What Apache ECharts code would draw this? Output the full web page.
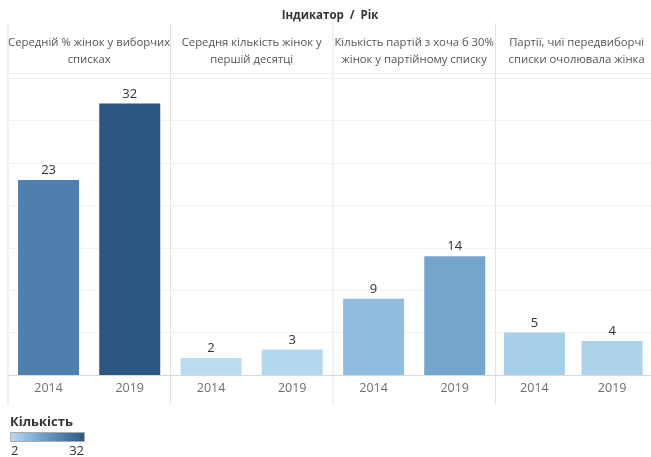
<!DOCTYPE html>
<html><head><meta charset="utf-8">
<script src="https://cdn.jsdelivr.net/npm/echarts@6/dist/echarts.min.js"></script>
<style>html,body{margin:0;padding:0;background:#fff}#c{width:651px;height:457px}</style>
</head><body><div id="c"></div>
<script>
const headers = [
  'Середній % жінок у виборчих\nсписках',
  'Середня кількість жінок у\nпершій десятці',
  'Кількість партій з хоча б 30%\nжінок у партійному списку',
  'Партії, чиї передвиборчі\nсписки очолювала жінка'
];
const years = ['2014', '2019'];
const avgPctWomen = [23, 32];
const avgWomenTop10 = [2, 3];
const partiesWith30 = [9, 14];
const partiesLedByWoman = [5, 4];
const panels = [avgPctWomen, avgWomenTop10, partiesWith30, partiesLedByWoman];
const colorMin = 2, colorMax = 32;
const colorStops = ['#b9dcf0', '#95c2e3', '#74a6cc', '#5a8bbb', '#41729f', '#2c5782'];

(function () {
const font = 'Open Sans';
const lefts = [8, 170.5, 333, 495.5];
const pw = 162.3;
const gTop = 73, gBottom = 375;
const grids = [], xAxes = [], yAxes = [], series = [], graphics = [];
panels.forEach((vals, i) => {
  grids.push({left: lefts[i], top: gTop, width: pw, height: gBottom - gTop});
  xAxes.push({type: 'category', gridIndex: i, data: years,
    axisLine: {show: true, lineStyle: {color: '#d9d9d9'}}, axisTick: {show: false},
    axisLabel: {color: '#6e6e6e', fontSize: 12.5, fontFamily: font, margin: 7}});
  yAxes.push({type: 'value', gridIndex: i, min: 0, max: 35.6, interval: 5,
    axisLine: {show: false}, axisTick: {show: false}, axisLabel: {show: false},
    splitLine: {show: true, lineStyle: {color: '#f2f2f2'}}});
  series.push({type: 'bar', xAxisIndex: i, yAxisIndex: i, data: vals, barWidth: 61,
    label: {show: true, position: 'top', color: '#333', fontSize: 13, fontFamily: font, distance: 3}});
  graphics.push({type: 'text', x: lefts[i] + pw / 2, y: 34,
    style: {text: headers[i], textAlign: 'center', fill: '#555', font: '11.3px ' + font, lineHeight: 17}});
});
lefts.forEach(x => graphics.push({type: 'line', shape: {x1: x, y1: 23, x2: x, y2: 405}, style: {stroke: '#e3e3e3', lineWidth: 1}}));
graphics.push({type: 'line', shape: {x1: 8, y1: 73.5, x2: 651, y2: 73.5}, style: {stroke: '#e3e3e3', lineWidth: 1}});
graphics.push({type: 'text', x: 330, y: 10, style: {text: 'Індикатор  /  Рік', textAlign: 'center', fill: '#333', font: 'bold 11.5px ' + font}});
graphics.push({type: 'text', x: 10, y: 416, style: {text: 'Кількість', fill: '#333', font: 'bold 13px ' + font}});
graphics.push({type: 'rect', shape: {x: 10.5, y: 432.5, width: 74, height: 9},
  style: {stroke: '#aaa', lineWidth: 1, fill: new echarts.graphic.LinearGradient(0, 0, 1, 0,
    colorStops.map((c, k) => ({offset: k / (colorStops.length - 1), color: c})))}});
graphics.push({type: 'text', x: 11, y: 445, style: {text: String(colorMin), fill: '#333', font: '13px ' + font}});
graphics.push({type: 'text', x: 84, y: 445, style: {text: String(colorMax), textAlign: 'right', fill: '#333', font: '13px ' + font}});

const chart = echarts.init(document.getElementById('c'));
chart.setOption({
  animation: false,
  grid: grids, xAxis: xAxes, yAxis: yAxes, series: series,
  visualMap: {show: false, type: 'continuous', min: colorMin, max: colorMax, dimension: 1,
    seriesIndex: [0, 1, 2, 3], inRange: {color: colorStops}},
  graphic: graphics
});
})();
</script></body></html>
